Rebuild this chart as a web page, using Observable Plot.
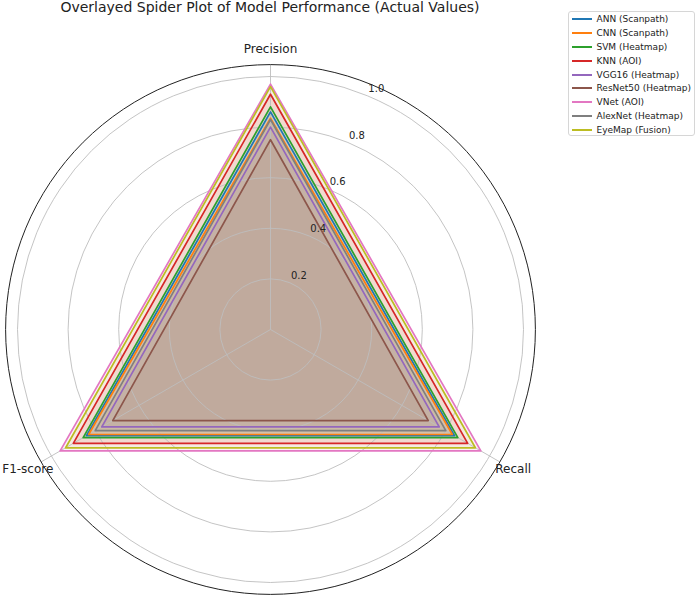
<!DOCTYPE html>
<html>
<head>
<meta charset="utf-8">
<script src="https://cdn.jsdelivr.net/npm/d3@7"></script>
<script src="https://cdn.jsdelivr.net/npm/@observablehq/plot@0.6"></script>
<style>
  html, body { margin: 0; padding: 0; background: #fff; }
  #wrap { position: relative; width: 698px; height: 599px; overflow: hidden; font-family: "DejaVu Sans", sans-serif; }
  #title { position: absolute; left: 0; width: 540px; top: -1px; text-align: center; font-size: 14px; color: #222; line-height: 17px; white-space: nowrap; }
  #legend { position: absolute; left: 568px; top: 11px; width: 127px; height: 125px; border: 1px solid #d6d6d6; border-radius: 3px; background: rgba(255,255,255,0.8); box-sizing: border-box; padding-top: 0.5px; }
  .row { height: 13.8px; display: flex; align-items: center; font-size: 9px; color: #222; white-space: nowrap; }
  .sw { width: 20px; height: 2px; margin-left: 3px; margin-right: 4.5px; }
  svg { position: absolute; left: 0; top: 0; }
</style>
</head>
<body>
<div id="wrap">
  <div id="chart"></div>
  <div id="title">Overlayed Spider Plot of Model Performance (Actual Values)</div>
  <div id="legend"></div>
</div>
<script>
// ---- data ----
const models = ["ANN (Scanpath)", "CNN (Scanpath)", "SVM (Heatmap)", "KNN (AOI)", "VGG16 (Heatmap)", "ResNet50 (Heatmap)", "VNet (AOI)", "AlexNet (Heatmap)", "EyeMap (Fusion)"];
const precision = [0.86, 0.835, 0.88, 0.93, 0.80, 0.75, 0.97, 0.83, 0.96];
const recall    = [0.84, 0.83, 0.855, 0.90, 0.77, 0.72, 0.96, 0.80, 0.935];
const f1score   = [0.84, 0.83, 0.855, 0.90, 0.77, 0.72, 0.96, 0.80, 0.935];
const metrics = ["Precision", "Recall", "F1-score"];
const rTicks = [0.2, 0.4, 0.6, 0.8, 1.0];
const colors = ["#1f77b4", "#ff7f0e", "#2ca02c", "#d62728", "#9467bd", "#8c564b", "#e377c2", "#7f7f7f", "#bcbd22"];
const rMax = 1.047;

// ---- geometry helpers (angles clockwise from top) ----
const ang = i => i * 2 * Math.PI / metrics.length;
const px = (r, a) => r * Math.sin(a);
const py = (r, a) => r * Math.cos(a);

const polys = models.map((m, k) => {
  const vals = [precision[k], recall[k], f1score[k]];
  return vals.map((v, i) => ({model: m, metric: metrics[i], value: v, a: ang(i)}));
});

const cx = 270, cy = 329, unit = 253;

const marks = [];
// fills (patches, below grid)
polys.forEach((pts, k) => {
  marks.push(Plot.line(pts, {x: d => px(d.value, d.a), y: d => py(d.value, d.a), curve: "linear-closed",
    fill: colors[k], fillOpacity: 0.1, stroke: "none"}));
});
// grid circles
marks.push(Plot.dot(rTicks, {x: () => 0, y: () => 0, r: d => d, stroke: "#bdbdbd", strokeWidth: 0.9, fill: "none"}));
// spokes
marks.push(Plot.link(metrics, {x1: 0, y1: 0, x2: (d, i) => px(rMax, ang(i)), y2: (d, i) => py(rMax, ang(i)), stroke: "#bdbdbd", strokeWidth: 0.9}));
// outer spine
marks.push(Plot.dot([rMax], {x: () => 0, y: () => 0, r: d => d, stroke: "#222", strokeWidth: 1, fill: "none"}));
// lines
polys.forEach((pts, k) => {
  marks.push(Plot.line(pts, {x: d => px(d.value, d.a), y: d => py(d.value, d.a), curve: "linear-closed",
    stroke: colors[k], strokeWidth: 1.7, strokeLinejoin: "round"}));
});
// radial tick labels
const labA = 22.5 * Math.PI / 180;
marks.push(Plot.text(rTicks, {x: d => px(d, labA), y: d => py(d, labA), dx: 9, dy: -7, text: d => d.toFixed(1),
  fontSize: 10, fill: "#222", fontFamily: "DejaVu Sans"}));
// theta labels
marks.push(Plot.text(metrics, {x: (d, i) => px(rMax * 1.058, ang(i)), y: (d, i) => py(rMax * 1.058, ang(i)), text: d => d,
  fontSize: 12, fill: "#222", fontFamily: "DejaVu Sans"}));

const chart = Plot.plot({
  width: 698, height: 599, margin: 0,
  style: {background: "transparent", overflow: "visible"},
  x: {domain: [-1, 1], range: [cx - unit, cx + unit], axis: null},
  y: {domain: [-1, 1], range: [cy + unit, cy - unit], axis: null},
  r: {type: "linear", domain: [0, 1], range: [0, unit]},
  marks
});
document.getElementById("chart").appendChild(chart);

// legend
const lg = document.getElementById("legend");
models.forEach((m, k) => {
  const row = document.createElement("div");
  row.className = "row";
  const sw = document.createElement("div");
  sw.className = "sw"; sw.style.background = colors[k];
  const t = document.createElement("span");
  t.textContent = m;
  row.appendChild(sw); row.appendChild(t);
  lg.appendChild(row);
});
</script>
</body>
</html>
